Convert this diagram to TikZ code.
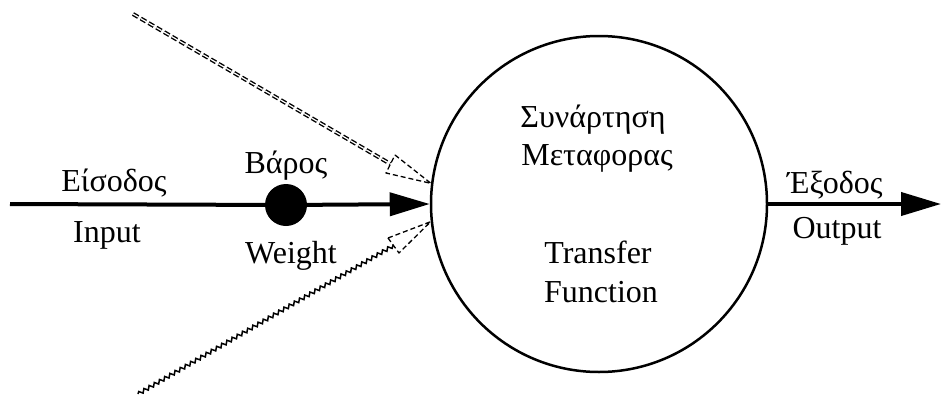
\documentclass[tikz,border=0pt]{standalone}
\usepackage{fontspec}
\setmainfont{Liberation Serif}
\usetikzlibrary{arrows.meta,decorations.pathmorphing}
\begin{document}
\begin{tikzpicture}[x=1pt,y=-1pt,
  lbl/.style={anchor=base,inner sep=0pt,font=\fontsize{32}{38}\selectfont},
  mainline/.style={line width=4pt,-{Triangle[length=40pt,width=23pt]}},
  hollowtip/.style={line width=1.3pt,dash pattern=on 5pt off 3pt,line join=round},
  dblline/.style={double,double distance=1.2pt,line width=1.4pt,dash pattern=on 6pt off 3pt},
  wavyline/.style={line width=1.5pt,decorate,decoration={snake,segment length=6pt,amplitude=1.8pt}}
]
\useasboundingbox (0,0) rectangle (943,394);
% transfer function circle
\node[circle,draw,line width=2.5pt,minimum size=336pt,inner sep=0pt] (tf) at (599,204) {};
% weight dot
\node[circle,fill=black,minimum size=42pt,inner sep=0pt] (w) at (286,205) {};
% coordinates
\coordinate (in) at (10,204);
\coordinate (out) at (941,204);
\coordinate (us) at (133,14);
\coordinate (ub) at (390.5,164);
\coordinate (ua) at (395,155);
\coordinate (uc) at (386,173);
\coordinate (ls) at (138,394);
\coordinate (lb) at (393.5,245.5);
\coordinate (la) at (388,238);
\coordinate (lc) at (399,253);
% main input line
\draw[line width=4pt] (in) -- (w);
\draw[mainline] (w) -- (tf.west);
% output
\draw[mainline] (tf.east) -- (out);
% other inputs
\draw[dblline] (us) -- (ub);
\draw[hollowtip] (ua) -- (tf.173.5) -- (uc) -- cycle;
\draw[wavyline] (ls) -- (lb);
\draw[hollowtip] (la) -- (tf.186.5) -- (lc) -- cycle;
% labels
\node[lbl] (t1) at (114,191) {Είσοδος};
\node[lbl] (t2) at (107,242) {Input};
\node[lbl] (t3) at (286,173) {Βάρος};
\node[lbl] (t4) at (291,263) {Weight};
\node[lbl] (t5) at (593,127) {Συνάρτηση};
\node[lbl] (t6) at (597,165) {Μεταφορας};
\node[lbl] (t7) at (598,263) {Transfer};
\node[lbl] (t8) at (601,302) {Function};
\node[lbl] (t9) at (835,193) {Έξοδος};
\node[lbl] (t10) at (837,238) {Output};
\end{tikzpicture}
\end{document}
